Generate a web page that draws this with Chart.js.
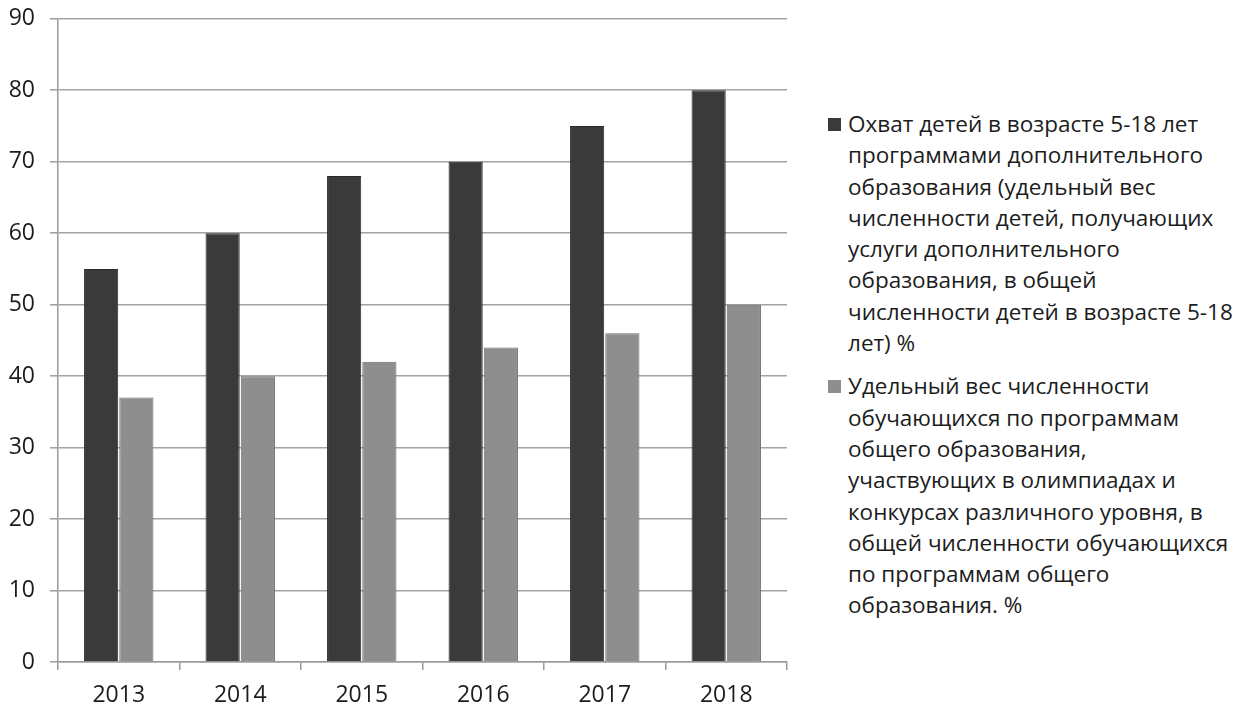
<!DOCTYPE html>
<html>
<head>
<meta charset="utf-8">
<script src="https://cdn.jsdelivr.net/npm/chart.js@4.4.1/dist/chart.umd.min.js"></script>
<style>
  html, body { margin: 0; padding: 0; background: #fff; overflow: hidden; }
  #wrap { position: relative; width: 1250px; height: 708px; overflow: hidden; }
  #chartBox { position: absolute; left: 0; top: -10px; width: 800px; height: 718px; }
  #legend { position: absolute; left: 826px; top: 108px; font-family: "Open Sans", sans-serif; font-size: 22.5px; color: #1c1c1c; }
  .item { position: relative; padding-left: 22px; line-height: 31.3px; margin-bottom: 12px; white-space: nowrap; }
  .item .sw { position: absolute; left: 2px; top: 10px; width: 13px; height: 13px; }
</style>
</head>
<body>
<div id="wrap">
  <div id="chartBox"><canvas id="chart"></canvas></div>
  <div id="legend"></div>
</div>
<script>
// categories and series
const years = ['2013', '2014', '2015', '2016', '2017', '2018'];
const coverage = [55, 60, 68, 70, 75, 80];
const olympiads = [37, 40, 42, 44, 46, 50];
const yTicks = [0, 10, 20, 30, 40, 50, 60, 70, 80, 90];

const coverageLabel = [
  'Охват детей в возрасте 5-18 лет',
  'программами дополнительного',
  'образования (удельный вес',
  'численности детей, получающих',
  'услуги дополнительного',
  'образования, в общей',
  'численности детей в возрасте 5-18',
  'лет) %'
];
const olympiadsLabel = [
  'Удельный вес численности',
  'обучающихся по программам',
  'общего образования,',
  'участвующих в олимпиадах и',
  'конкурсах различного уровня, в',
  'общей численности обучающихся',
  'по программам общего',
  'образования. %'
];

const darkColor = '#3a3a3a';
const lightColor = '#8e8e8e';

const ctx = document.getElementById('chart').getContext('2d');
new Chart(ctx, {
  type: 'bar',
  data: {
    labels: years,
    datasets: [{
      label: coverageLabel.join(' '),
      data: coverage,
      backgroundColor: darkColor,
      borderColor: '#2a2a2a',
      borderWidth: 1
    }, {
      label: olympiadsLabel.join(' '),
      data: olympiads,
      backgroundColor: lightColor,
      borderColor: '#6e6e6e',
      borderWidth: 1
    }]
  },
  options: {
    responsive: true,
    maintainAspectRatio: false,
    animation: false,
    layout: { padding: { top: 6, right: 13, bottom: 0, left: 0 } },
    datasets: { bar: { categoryPercentage: 0.58, barPercentage: 0.97 } },
    plugins: {
      legend: { display: false },
      tooltip: { enabled: false }
    },
    scales: {
      x: {
        grid: { drawOnChartArea: false, drawTicks: true, tickLength: 8, color: '#9a9a9a', lineWidth: 1.5 },
        border: { color: '#9a9a9a', width: 1.5 },
        ticks: { color: '#1c1c1c', font: { family: 'Open Sans', size: 23 }, padding: 12 },
        afterFit: function(scale) { scale.height = 46; }
      },
      y: {
        min: 0,
        max: 90,
        afterBuildTicks: function(scale) { scale.ticks = yTicks.map(v => ({ value: v })); },
        grid: { color: '#a3a3a3', lineWidth: 1.6, tickLength: 8 },
        border: { color: '#9a9a9a', width: 1.5 },
        ticks: { color: '#1c1c1c', font: { family: 'Open Sans', size: 23 }, padding: 15 },
        afterFit: function(scale) { scale.width = 58; }
      }
    }
  }
});

// HTML legend with the original line breaks
const legendEl = document.getElementById('legend');
[[coverageLabel, darkColor], [olympiadsLabel, lightColor]].forEach(function(pair) {
  const div = document.createElement('div');
  div.className = 'item';
  div.innerHTML = '<span class="sw" style="background:' + pair[1] + '"></span>' + pair[0].join('<br>');
  legendEl.appendChild(div);
});
</script>
</body>
</html>
